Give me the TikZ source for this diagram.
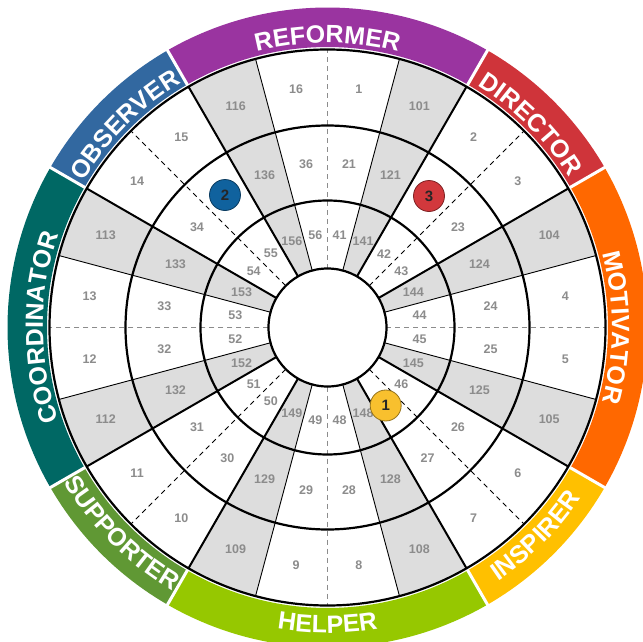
\documentclass[tikz,border=0pt]{standalone}
\usepackage{fontspec}
\setmainfont{Liberation Sans}
\usetikzlibrary{decorations.text}
\definecolor{cref}{RGB}{154,52,160}
\definecolor{cdir}{RGB}{207,52,58}
\definecolor{cmot}{RGB}{255,104,0}
\definecolor{cins}{RGB}{255,192,0}
\definecolor{chel}{RGB}{150,200,0}
\definecolor{csup}{RGB}{96,152,52}
\definecolor{ccoo}{RGB}{0,104,100}
\definecolor{cobs}{RGB}{50,104,160}
\definecolor{cellgray}{RGB}{221,221,221}
\definecolor{numgray}{RGB}{140,140,140}
\definecolor{mred}{RGB}{210,56,60}
\definecolor{mblue}{RGB}{16,98,158}
\definecolor{myellow}{RGB}{248,192,46}
\newcommand\bandfnt{\bfseries\fontsize{25}{25}\selectfont}
\begin{document}
\begin{tikzpicture}[x=1pt,y=1pt,
  numlbl/.style={font=\bfseries\fontsize{12.5}{12.5}\selectfont, text=numgray, inner sep=0pt},
  thickline/.style={line width=2pt},
  thinline/.style={line width=0.9pt},
  axisdash/.style={line width=1pt, numgray, dash pattern=on 5pt off 4pt},
  diagdash/.style={line width=0.8pt, black, dash pattern=on 5pt off 4pt},
  ringline/.style={line width=2.2pt},
  markerdot/.style={circle, minimum size=31pt, inner sep=0pt, fill=#1, draw=#1!60!black, line width=0.8pt, font=\bfseries\fontsize{15}{15}\selectfont, text=black!85},
  bandtext/.style={decorate, decoration={text along path, text align=center, text color=white, text={|\bandfnt|#1}}}
]
\useasboundingbox (-327.5,-313.5) rectangle (315.5,327.5);
\clip (-327.5,-313.5) rectangle (315.5,327.5);
% coloured band
\foreach \a/\b/\c in {60/120/cref, 30/60/cdir, -30/30/cmot, -60/-30/cins, -120/-60/chel, -150/-120/csup, 150/210/ccoo, 120/150/cobs}
  \fill[\c] (\a:280.5) arc[start angle=\a, end angle=\b, radius=280.5] -- (\b:320) arc[start angle=\b, end angle=\a, radius=320] -- cycle;
\foreach \a in {30,60,120,150,210,240,300,330}
  \draw[white, line width=3pt] (\a:279) -- (\a:325);
% grey cells
\foreach \a in {60,15,-30,-75,-120,-165,150,105}
  \fill[cellgray] (\a:59) arc[start angle=\a, end angle={\a+15}, radius=59] -- ({\a+15}:278) arc[start angle={\a+15}, end angle=\a, radius=278] -- cycle;
% radial lines
\foreach \a in {15,75,105,165,195,255,285,345}
  \draw[thinline] (\a:59) -- (\a:278);
\foreach \a in {0,90,180,270}
  \draw[axisdash] (\a:59) -- (\a:278);
\foreach \a in {45,135,225,315}
  \draw[diagdash] (\a:59) -- (\a:278);
\foreach \a in {30,60,120,150,210,240,300,330}
  \draw[thickline] (\a:59) -- (\a:278);
% rings
\foreach \r in {59,127,202,278}
  \draw[ringline] (0,0) circle[radius=\r];
% numbers, outer ring
\foreach \t/\g in {1/82.5,101/67.5,2/52.5,3/37.5,104/22.5,4/7.5,5/-7.5,105/-22.5,6/-37.5,7/-52.5,108/-67.5,8/-82.5,9/-97.5,109/-112.5,10/-127.5,11/-142.5,112/-157.5,12/-172.5,13/172.5,113/157.5,14/142.5,15/127.5,116/112.5,16/97.5}
  \node[numlbl] (n\t) at (\g:240) {\t};
% middle ring
\foreach \t/\g in {21/82.5,121/67.5,23/37.5,124/22.5,24/7.5,25/-7.5,125/-22.5,26/-37.5,27/-52.5,128/-67.5,28/-82.5,29/-97.5,129/-112.5,30/-127.5,31/-142.5,132/-157.5,32/-172.5,33/172.5,133/157.5,34/142.5,136/112.5,36/97.5}
  \node[numlbl] (n\t) at (\g:164.5) {\t};
% inner ring
\foreach \t/\g in {41/82.5,141/67.5,42/52.5,43/37.5,144/22.5,44/7.5,45/-7.5,145/-22.5,46/-37.5,148/-67.5,48/-82.5,49/-97.5,149/-112.5,50/-127.5,51/-142.5,152/-157.5,52/-172.5,53/172.5,153/157.5,54/142.5,55/127.5,156/112.5,56/97.5}
  \node[numlbl] (n\t) at (\g:93) {\t};
% markers
\node[markerdot=mred] (m3) at (101.5,131.5) {3};
\node[markerdot=mblue] (m2) at (-102.5,132.5) {2};
\node[markerdot=myellow] (m1) at (58.2,-78) {1};
% band texts
\path[bandtext=REFORMER] (130:284.5) arc[start angle=130, end angle=50, radius=284.5];
\path[bandtext=DIRECTOR] (85:284.5) arc[start angle=85, end angle=5, radius=284.5];
\path[bandtext=MOTIVATOR] (40:284.5) arc[start angle=40, end angle=-40, radius=284.5];
\path[bandtext=OBSERVER] (175:284.5) arc[start angle=175, end angle=95, radius=284.5];
\path[bandtext=COORDINATOR] (220:284.5) arc[start angle=220, end angle=140, radius=284.5];
\path[bandtext=INSPIRER] (-85:305.5) arc[start angle=-85, end angle=-5, radius=305.5];
\path[bandtext=HELPER] (-130:305.5) arc[start angle=-130, end angle=-50, radius=305.5];
\path[bandtext=SUPPORTER] (-175:305.5) arc[start angle=-175, end angle=-95, radius=305.5];
\end{tikzpicture}
\end{document}
